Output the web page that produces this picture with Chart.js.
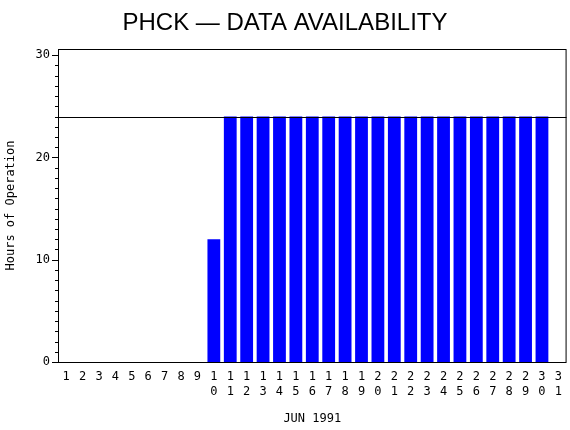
<!DOCTYPE html>
<html><head><script src="https://cdn.jsdelivr.net/npm/chart.js@4"></script>
<style>body{margin:0;background:#fff}</style></head>
<body><canvas id="c" width="570" height="430"></canvas>
<script>
const days = Array.from({length:31},(_,i)=>String(i+1));
const hours = [0,0,0,0,0,0,0,0,0,12,24,24,24,24,24,24,24,24,24,24,24,24,24,24,24,24,24,24,24,24,0];
const refLine = 24;
const yTicks = [0,10,20,30];
const F = "'DejaVu Sans Mono', monospace";
const deco = {
  id:'deco',
  afterDraw(ch){
    const c=ch.ctx, y=ch.scales.y, a=ch.chartArea;
    c.save();
    c.strokeStyle='#000'; c.lineWidth=1;
    c.strokeRect(a.left+0.5,a.top+0.5,a.right-a.left-1,a.bottom-a.top);
    for(let v=0;v<=30;v++){
      const p=Math.round(y.getPixelForValue(v))+0.5;
      const L = v%10===0?6:3;
      c.beginPath();c.moveTo(a.left-L,p);c.lineTo(a.left,p);c.stroke();
    }
    const p=Math.round(y.getPixelForValue(refLine))+0.5;
    c.beginPath();c.moveTo(a.left,p);c.lineTo(a.right,p);c.stroke();
    c.fillStyle='#000';c.font="24px 'Liberation Sans', sans-serif";c.textAlign='center';
    c.fillText('PHCK \u2014 DATA AVAILABILITY',285,30);
    c.restore();
  }
};
new Chart(document.getElementById('c'),{
  type:'bar',
  data:{labels:days.map(d=>d.length>1?d.split(''):d),datasets:[{data:hours,backgroundColor:'#0000ff',barPercentage:0.78,categoryPercentage:1}]},
  options:{responsive:false,animation:false,
    layout:{padding:{top:49,right:1,left:0,bottom:0}},
    plugins:{legend:{display:false},tooltip:{enabled:false}},
    scales:{
      x:{grid:{display:false,drawTicks:false},border:{display:false},
        ticks:{color:'#000',font:{family:F,size:12},maxRotation:0,autoSkip:false,padding:8},
        title:{display:true,text:'JUN 1991',color:'#000',font:{family:F,size:12},padding:{top:8}},
        afterFit(s){s.height=68;}},
      y:{min:0,max:30.6,grid:{display:false,drawTicks:false},border:{display:false},
        afterBuildTicks(s){s.ticks=yTicks.map(v=>({value:v}));},
        ticks:{color:'#000',font:{family:F,size:12},padding:8},
        title:{display:true,text:'Hours of Operation',color:'#000',font:{family:F,size:12},padding:{bottom:2}},
        afterFit(s){s.width=58;}}
    }},
  plugins:[deco]
});
</script></body></html>
